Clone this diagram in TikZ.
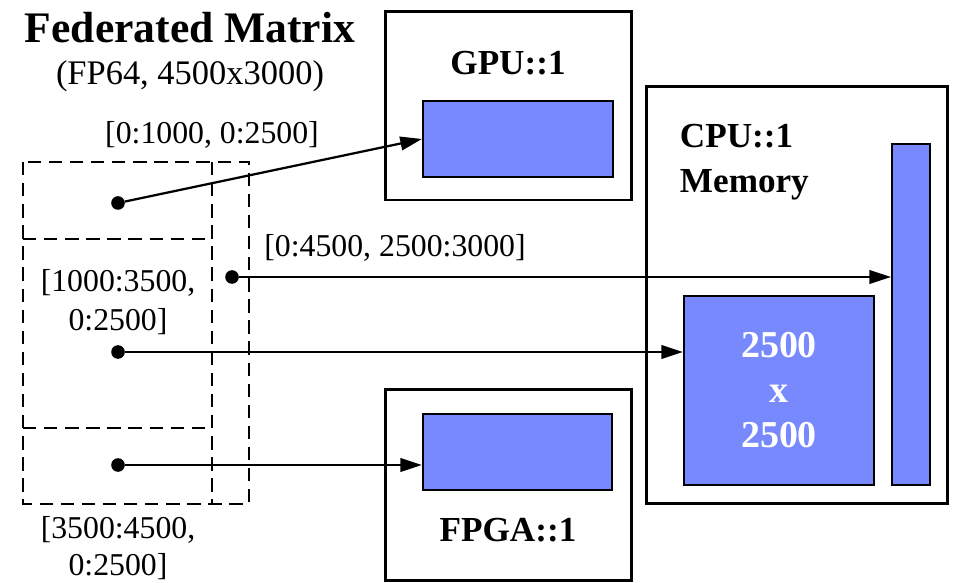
\documentclass[tikz,border=0pt]{standalone}
\usepackage{fontspec}
\setmainfont{Liberation Serif}
\usetikzlibrary{arrows.meta}
\definecolor{memblue}{RGB}{119,137,252}

\tikzset{
  devbox/.style={draw, line width=2.1pt, inner sep=0pt},
  memblock/.style={draw, line width=1.5pt, fill=memblue, inner sep=0pt},
  dotnode/.style={circle, fill, inner sep=0pt, minimum size=0.34cm},
  feedarrow/.style={line width=1.6pt, -{Triangle[length=0.54cm, width=0.34cm]}},
  slicedash/.style={line width=1.6pt, dash pattern=on 9.5pt off 5.5pt},
  bigtext/.style={font=\fontsize{25}{32}\selectfont\bfseries},
  smalltext/.style={font=\fontsize{22.6}{27.5}\selectfont},
}

\begin{document}
\begin{tikzpicture}[x=0.025cm, y=-0.025cm]
    \useasboundingbox (0,0) rectangle (954,583);

    \node[font=\fontsize{31}{36}\selectfont\bfseries] (title) at (190, 28) {Federated Matrix};
    \node[font=\fontsize{24.5}{30}\selectfont] (shape) at (190, 76) {(FP64, 4500x3000)};

    % 行列の分割（破線）
    \draw[slicedash] (23, 162) rectangle (249, 504);
    \draw[slicedash] (212, 162) -- (212, 504);
    \draw[slicedash] (23, 239) -- (212, 239);
    \draw[slicedash] (23, 428) -- (212, 428);

    \node[smalltext] (top_label) at (212, 135) {[0:1000, 0:2500]};
    \node[smalltext, align=center] (mid_label) at (118, 302) {[1000:3500,\\0:2500]};
    \node[font=\fontsize{22.6}{26}\selectfont, align=center] (bot_label) at (118, 548) {[3500:4500,\\0:2500]};
    \node[smalltext] (col_label) at (395, 248) {[0:4500, 2500:3000]};

    \node[dotnode] (top) at (118, 203) {};
    \node[dotnode] (col) at (232, 277) {};
    \node[dotnode] (mid) at (118, 352) {};
    \node[dotnode] (bot) at (118, 465) {};

    \node[devbox, minimum width=6.125cm, minimum height=4.7cm] (gpu) at (508.5, 106) {};
    \node[bigtext] (gpu_label) at (508, 63) {GPU::1};
    \node[memblock, minimum width=4.75cm, minimum height=1.9cm] (gpu_mem) at (518, 139) {};

    \node[devbox, minimum width=6.125cm, minimum height=4.75cm] (fpga) at (508.5, 485) {};
    \node[bigtext] (fpga_label) at (508, 530) {FPGA::1};
    \node[memblock, minimum width=4.725cm, minimum height=1.9cm] (fpga_mem) at (517.5, 452) {};

    \node[devbox, minimum width=7.5cm, minimum height=10.4cm] (cpu) at (797, 295) {};
    \node[bigtext, align=left, anchor=west] (cpu_label) at (675, 162) {CPU::1\\Memory};
    \node[memblock, minimum width=0.95cm, minimum height=8.525cm] (cpu_col) at (911, 314.5) {};
    \node[memblock, minimum width=4.75cm, minimum height=4.725cm, text=white,
          font=\fontsize{27}{32}\selectfont\bfseries, align=center] (cpu_mem) at (779, 390.5) {2500\\x\\2500};

    \draw[feedarrow] (top) -- (gpu_mem.west);
    \draw[feedarrow] (col) -- (col -| cpu_col.west);
    \draw[feedarrow] (mid) -- (mid -| cpu_mem.west);
    \draw[feedarrow] (bot) -- (bot -| fpga_mem.west);

\end{tikzpicture}
\end{document}
